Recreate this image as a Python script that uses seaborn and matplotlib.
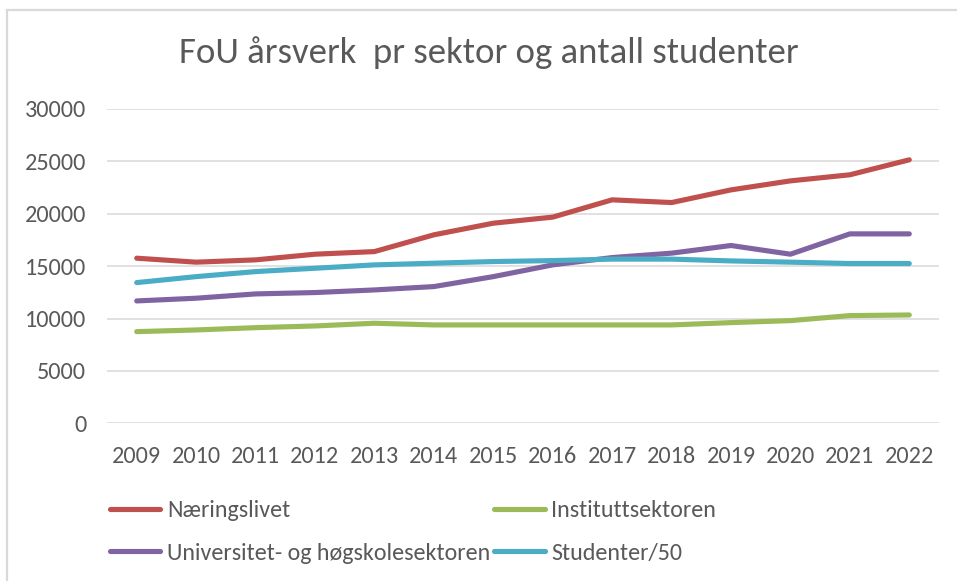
import matplotlib
matplotlib.use("Agg")
import matplotlib.pyplot as plt
import seaborn as sns
import pandas as pd
from matplotlib.patches import Rectangle
from matplotlib.lines import Line2D

years = [2009, 2010, 2011, 2012, 2013, 2014, 2015, 2016, 2017, 2018, 2019, 2020, 2021, 2022]
naeringslivet = [15760, 15380, 15600, 16140, 16390, 17990, 19100, 19680, 21330, 21070, 22280, 23140, 23720, 25150]
instituttsektoren = [8750, 8910, 9130, 9290, 9550, 9390, 9390, 9390, 9390, 9390, 9610, 9800, 10280, 10340]
uh_sektoren = [11680, 11940, 12350, 12480, 12730, 13050, 14000, 15120, 15820, 16240, 16970, 16140, 18080, 18080]
studenter_50 = [13430, 14000, 14480, 14800, 15120, 15280, 15440, 15530, 15670, 15670, 15500, 15380, 15250, 15250]

series_names = ["Næringslivet", "Instituttsektoren",
                "Universitet- og høgskolesektoren", "Studenter/50"]
series_values = [naeringslivet, instituttsektoren, uh_sektoren, studenter_50]
colors = ["#C0504D", "#9BBB59", "#8064A2", "#4BACC6"]
yticks = [0, 5000, 10000, 15000, 20000, 25000, 30000]
title = "FoU årsverk  pr sektor og antall studenter"

rows = []
for name, vals in zip(series_names, series_values):
    for y, v in zip(years, vals):
        rows.append({"År": y, "Verdi": v, "Serie": name})
df = pd.DataFrame(rows)

sns.set_theme(style="white")
plt.rcParams["font.family"] = ["Carlito", "Lato", "DejaVu Sans"]

fig = plt.figure(figsize=(9.57, 5.81), dpi=100)
ax = fig.add_axes([107 / 957, 1 - 423.3 / 581, (939 - 107) / 957, (423.3 - 109) / 581])

sns.lineplot(data=df, x="År", y="Verdi", hue="Serie", hue_order=series_names,
             palette=colors, linewidth=3.7, ax=ax, legend=False,
             solid_capstyle="round", solid_joinstyle="round")

ax.set_xlim(years[0] - 0.5, years[-1] + 0.5)
ax.set_ylim(0, 30000)
ax.set_yticks(yticks)
ax.set_yticklabels([str(t) for t in yticks])
ax.set_xticks(years)
ax.set_xticklabels([str(y) for y in years])
ax.grid(axis="y", color="#D9D9D9", linewidth=1.1)
ax.set_axisbelow(True)
for s in ax.spines.values():
    s.set_visible(False)
ax.tick_params(axis="both", length=0, labelsize=17.5, labelcolor="#595959")
ax.tick_params(axis="y", pad=15)
ax.tick_params(axis="x", pad=16.5)
ax.set_xlabel("")
ax.set_ylabel("")

fig.text(489 / 957, 1 - 53 / 581, title, ha="center", va="center",
         fontsize=26.5, color="#595959")

# legend, rows: (Næringslivet, Instituttsektoren), (Universitet..., Studenter/50)
handles = {n: Line2D([0], [0], color=c, linewidth=3.7, solid_capstyle="round")
           for n, c in zip(series_names, colors)}
order = [series_names[0], series_names[2], series_names[1], series_names[3]]
leg = fig.legend([handles[n] for n in order], order, ncol=2,
                 loc="upper left", bbox_to_anchor=(109.5 / 957, 1 - 500 / 581),
                 frameon=False, fontsize=17.3, handlelength=2.12, handletextpad=0.27,
                 columnspacing=0.15, labelspacing=0.9, borderaxespad=0, borderpad=0)
for t in leg.get_texts():
    t.set_color("#595959")

# outer chart border (partially visible in the crop)
fig.patches.append(Rectangle((6.5 / 957, -0.05), 1.1, 1 - 10 / 581 + 0.05,
                             transform=fig.transFigure, fill=False,
                             edgecolor="#D9D9D9", linewidth=1.6))

fig.savefig("out.png", dpi=100)
